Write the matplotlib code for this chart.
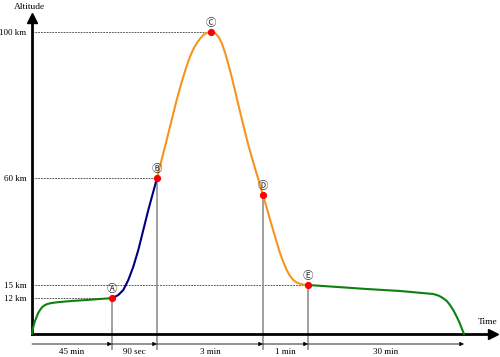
import matplotlib
matplotlib.use("Agg")
import matplotlib.pyplot as plt

# ----------------------------------------------------------------------
# Data (schematic units: x = position along the time axis, y = height)
# ----------------------------------------------------------------------

alt_labels = ["12 km", "15 km", "60 km", "100 km"]
alt_heights = [36, 49, 156, 302]
alt_ends = [80, 276, 125, 179]          # x of the point each dashed line reaches

point_names = ["\u24b6", "\u24b7", "\u24b8", "\u24b9", "\u24ba"]   # A..E circled
point_x = [80, 125, 179, 231, 276]
point_y = [36, 156, 302, 139, 49]

# climb to 12 km (green)
climb_x = [0, 1.3, 2.8, 4.7, 6.2, 8, 10.3, 13, 15.5, 18, 24, 31.3, 42, 54.7, 66, 78, 80]
climb_y = [0, 7.3, 12.5, 17.3, 21, 24, 27, 29, 30, 30.7, 31.6, 32.3, 33.2, 34, 34.9, 35.7, 36]

# powered ascent A -> B (blue)
boost_x = [80, 83, 86.3, 91.3, 96.3, 101.3, 106.3, 111.3, 116.3, 121.3, 125]
boost_y = [36, 37.2, 39, 44, 54, 67.3, 84, 104, 124, 142.3, 156]

# ballistic arc B -> C -> D -> E (orange)
arc_x = [125, 128, 131.3, 134.5, 138, 141.3, 144.7, 148, 151.3, 154.5, 158, 161,
         164.7, 168, 171.3, 175, 179, 181, 183, 186.3, 189.7, 193, 196.3, 199.7,
         203, 206.3, 209.7, 213, 216.3, 219.7, 223, 226.3, 231, 234.7, 238, 241.3,
         244.7, 248, 251.3, 254.7, 258, 261.3, 264.5, 268, 272, 276]
arc_y = [156, 167.8, 180.7, 193.2, 207.3, 220.6, 234, 246, 257.3, 267.5, 277.3, 284.2,
         290.7, 295.3, 299, 301.2, 302, 301.8, 301, 297.5, 291, 281.5, 270, 257,
         243.5, 229.5, 215.5, 202, 189, 177, 165.8, 154.8, 139, 126.3, 114.7, 103.3,
         91.8, 81, 72, 64, 58, 54, 51.6, 50.2, 49.3, 49]

# glide and landing (green)
glide_x = [276, 301.3, 334.7, 368, 401.3, 407, 411.3, 415, 418, 421.5, 424.7, 427.5, 429.7, 432]
glide_y = [49, 47.3, 45, 43, 40, 38.2, 35.7, 32.8, 29, 23.5, 17.3, 11.5, 5.7, 0]

phase_labels = ["45 min", "90 sec", "3 min", "1 min", "30 min"]
phase_bounds = [0, 80, 125, 231, 276, 432]

GREEN = "#0f7f12"
NAVY = "#00007f"
ORANGE = "#f7941e"

plt.rcParams["font.family"] = ["Liberation Serif", "DejaVu Sans"]

fig = plt.figure(figsize=(5, 3.57), dpi=100)
ax = fig.add_axes([0, 0, 1, 1])
ax.set_xlim(-32, 468)
ax.set_ylim(-23, 334)

# axes as arrows
for side in ["top", "right"]:
    ax.spines[side].set_visible(False)
ax.spines["left"].set_position(("data", 0))
ax.spines["bottom"].set_position(("data", 0))
ax.spines["left"].set_linewidth(2)
ax.spines["bottom"].set_linewidth(2)
ax.spines["left"].set_bounds(0, 314)
ax.spines["bottom"].set_bounds(0, 458)
ax.plot([0], [316], marker="^", color="k", markersize=7, clip_on=False)
ax.plot([461], [0], marker=">", color="k", markersize=7, clip_on=False)

ax.set_xticks([])
ax.set_yticks(alt_heights, alt_labels, fontsize=6.5)
ax.tick_params(axis="y", length=0, pad=4)

ax.text(-2, 327, "Altitude", ha="center", va="center", fontsize=6.8)
ax.text(466, 12, "Time", ha="right", va="center", fontsize=6.8)

# dashed guides to the altitude marks
for h, xe in zip(alt_heights, alt_ends):
    ax.plot([0, xe], [h, h], color="#444444", lw=0.6, ls=(0, (2.2, 1.2)), zorder=1)

# vertical guides down to the time line
for x, y in zip(point_x, point_y):
    if x == 179:
        continue
    ax.plot([x, x], [y, -15], color="#999999", lw=1.3, zorder=1, clip_on=False)

# flight profile
line_kw = dict(lw=1.5, solid_capstyle="round", solid_joinstyle="round", zorder=3)
ax.plot(climb_x, climb_y, color=GREEN, **line_kw)
ax.plot(boost_x, boost_y, color=NAVY, **line_kw)
ax.plot(arc_x, arc_y, color=ORANGE, **line_kw)
ax.plot(glide_x, glide_y, color=GREEN, **line_kw)

ax.plot(point_x, point_y, "o", color="red", markersize=4.2, zorder=4)
for name, x, y in zip(point_names, point_x, point_y):
    ax.annotate(name, (x, y), xytext=(0, 6.5), textcoords="offset points",
                ha="center", va="center", fontsize=7.5, color="#333333",
                family=["Noto Sans CJK JP", "DejaVu Sans"])

# phase durations along the bottom
for lab, x0, x1 in zip(phase_labels, phase_bounds[:-1], phase_bounds[1:]):
    ax.annotate("", xy=(x1, -10), xytext=(x0, -10),
                arrowprops=dict(arrowstyle="-|>", color="k", lw=0.6,
                                mutation_scale=6, shrinkA=0, shrinkB=0))
    ax.text((x0 + x1) / 2, -18, lab, ha="center", va="center", fontsize=6.5)

fig.savefig("out.png", dpi=100)
